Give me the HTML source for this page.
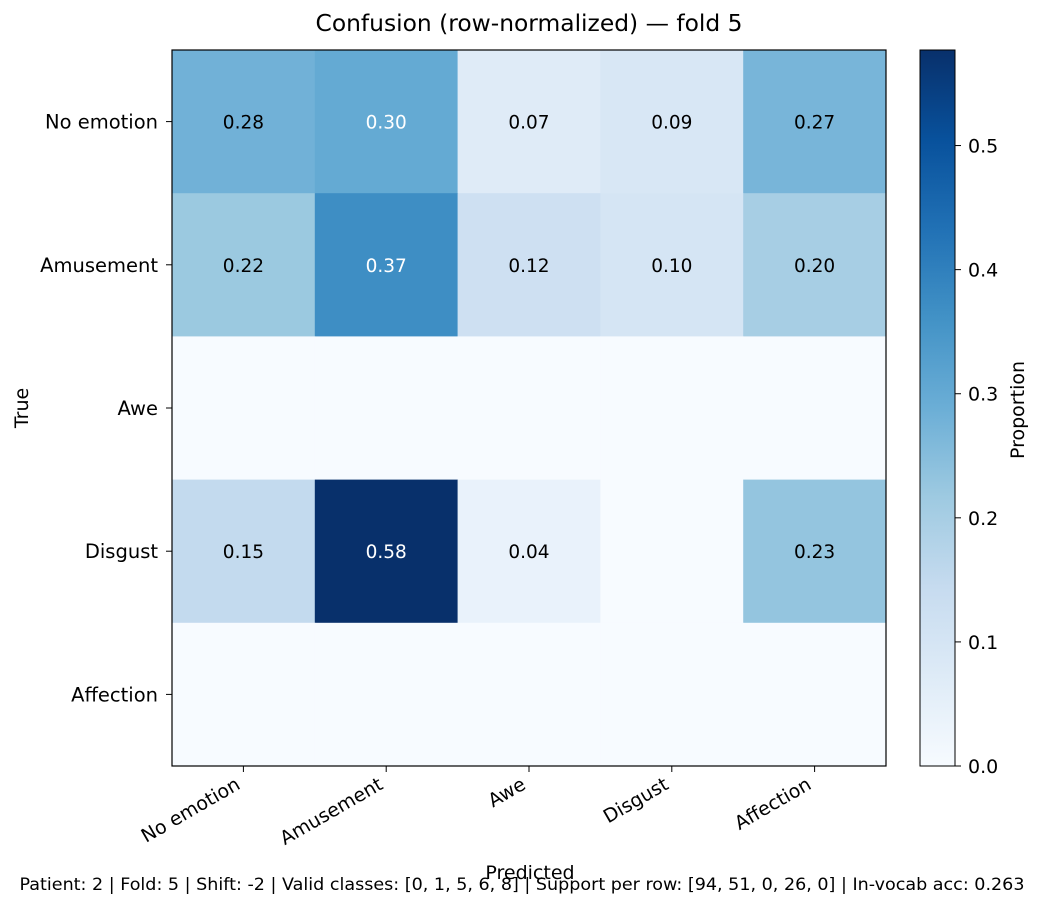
<!DOCTYPE html>
<html><head><meta charset="utf-8"><style>
body{margin:0;background:#fff;}
svg{display:block;font-family:"DejaVu Sans","Liberation Sans",sans-serif;}
</style></head><body>
<svg id="chart" width="1041" height="908" viewBox="0 0 1041 908">
<text x="529" y="31" font-size="23" text-anchor="middle" textLength="427" lengthAdjust="spacingAndGlyphs">Confusion (row-normalized) — fold 5</text>
<g id="cells"></g>
<rect x="172" y="50" width="714" height="716" fill="none" stroke="#000" stroke-width="1.2"/>
<g id="axes"></g>
<text x="530" y="879" font-size="19" text-anchor="middle">Predicted</text>
<text transform="translate(28,408) rotate(-90)" font-size="19" text-anchor="middle">True</text>
<defs><linearGradient id="cbgrad" x1="0" y1="1" x2="0" y2="0"></linearGradient></defs>
<rect id="cbar" x="920" y="50" width="35" height="716" fill="url(#cbgrad)" stroke="#000" stroke-width="1"/>
<g id="cbticks"></g>
<text transform="translate(1024,410) rotate(-90)" font-size="19" text-anchor="middle">Proportion</text>
<text x="522" y="890" font-size="17" text-anchor="middle" textLength="1005" lengthAdjust="spacingAndGlyphs">Patient: 2 | Fold: 5 | Shift: -2 | Valid classes: [0, 1, 5, 6, 8] | Support per row: [94, 51, 0, 26, 0] | In-vocab acc: 0.263</text>
</svg>
<script>
const classes = ["No emotion","Amusement","Awe","Disgust","Affection"];
const row0 = [0.28,0.30,0.07,0.09,0.27];
const row1 = [0.22,0.37,0.12,0.10,0.20];
const row2 = [0,0,0,0,0];
const row3 = [0.15,0.577,0.04,0,0.23];
const row4 = [0,0,0,0,0];
const matrix = [row0,row1,row2,row3,row4];
const cbTicks = [0,0.1,0.2,0.3,0.4,0.5];

const NS="http://www.w3.org/2000/svg";
const X0=172,Y0=50,W=714,H=716;
const vmax=Math.max(...matrix.flat())||1;
const stops=["#f7fbff","#deebf7","#c6dbef","#9ecae1","#6baed6","#4292c6","#2171b5","#08519c","#08306b"];
function hx(c){return [1,3,5].map(i=>parseInt(c.substr(i,2),16));}
function blues(t){t=Math.max(0,Math.min(1,t));const p=t*8,i=Math.min(7,Math.floor(p)),f=p-i;const a=hx(stops[i]),b=hx(stops[i+1]);return "rgb("+a.map((v,k)=>Math.round(v+(b[k]-v)*f)).join(",")+")";}
const n=classes.length,cw=W/n,ch=H/n;
const xC=j=>X0+cw*(j+0.5), yC=i=>Y0+ch*(i+0.5);
const cells=document.getElementById("cells");
matrix.forEach((row,i)=>row.forEach((v,j)=>{
 const r=document.createElementNS(NS,"rect");
 r.setAttribute("x",X0+cw*j);r.setAttribute("y",Y0+ch*i);r.setAttribute("width",cw+0.5);r.setAttribute("height",ch+0.5);
 r.setAttribute("fill",blues(v/vmax));
 
 
 cells.appendChild(r);
 if(v>0){
  const t=document.createElementNS(NS,"text");
  t.setAttribute("x",xC(j));t.setAttribute("y",yC(i)+7);t.setAttribute("font-size","18.5");t.setAttribute("text-anchor","middle");
  t.setAttribute("fill",v>vmax/2?"#fff":"#000");t.textContent=v.toFixed(2);
  
  
  cells.appendChild(t);
 }
}));
const axes=document.getElementById("axes");
classes.forEach((c,k)=>{
 const l=document.createElementNS(NS,"line");
 l.setAttribute("x1",X0-6);l.setAttribute("x2",X0);l.setAttribute("y1",yC(k));l.setAttribute("y2",yC(k));l.setAttribute("stroke","#000");
 
 
 axes.appendChild(l);
 const t=document.createElementNS(NS,"text");
 t.setAttribute("x",X0-14);t.setAttribute("y",yC(k)+7);t.setAttribute("font-size","19.5");t.setAttribute("text-anchor","end");t.textContent=c;
 
 
 axes.appendChild(t);
 const l2=document.createElementNS(NS,"line");
 l2.setAttribute("x1",xC(k));l2.setAttribute("x2",xC(k));l2.setAttribute("y1",Y0+H);l2.setAttribute("y2",Y0+H+6);l2.setAttribute("stroke","#000");
 
 
 axes.appendChild(l2);
 const t2=document.createElementNS(NS,"text");
 t2.setAttribute("transform","translate("+(xC(k)-2)+","+(Y0+H+22)+") rotate(-30)");
 t2.setAttribute("font-size","19");t2.setAttribute("text-anchor","end");t2.textContent=c;
 
 
 axes.appendChild(t2);
});
const g=document.getElementById("cbgrad");
stops.forEach((s,k)=>{const st=document.createElementNS(NS,"stop");st.setAttribute("offset",(k/8));st.setAttribute("stop-color",s);g.appendChild(st);});
const cb=document.getElementById("cbticks");
const cy=v=>Y0+H-(v/vmax)*H;
cbTicks.forEach(v=>{
 const l=document.createElementNS(NS,"line");
 l.setAttribute("x1",955);l.setAttribute("x2",961);l.setAttribute("y1",cy(v));l.setAttribute("y2",cy(v));l.setAttribute("stroke","#000");
 
 
 cb.appendChild(l);
 const t=document.createElementNS(NS,"text");
 t.setAttribute("x",968);t.setAttribute("y",cy(v)+7);t.setAttribute("font-size","19");t.textContent=v.toFixed(1);
 
 
 cb.appendChild(t);
});
</script>
</body></html>
